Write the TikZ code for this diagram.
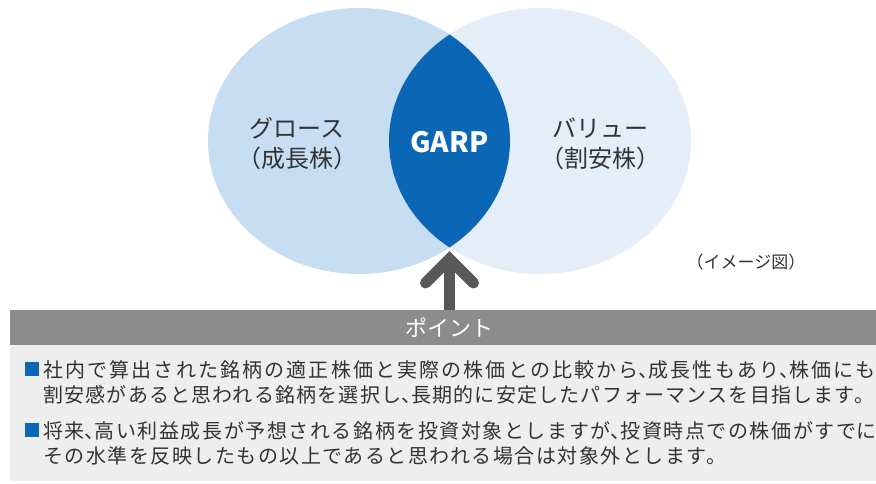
\documentclass[tikz,border=0pt]{standalone}
\usepackage{fontspec}
\setmainfont{Noto Sans CJK JP}
\newfontfamily\bodyfont{Noto Sans CJK JP}
\usetikzlibrary{shapes.geometric}
\definecolor{lblue}{HTML}{C7DDF2}
\definecolor{rblue}{HTML}{E4EEF9}
\definecolor{dblue}{HTML}{0B66B5}
\definecolor{bargray}{HTML}{8C8C8C}
\definecolor{boxgray}{HTML}{EEEEEE}
\definecolor{arrowgray}{HTML}{585858}
\definecolor{txt}{HTML}{333333}
\newcommand\halfcomma{\makebox[0.5em][l]{、}}
\newcommand\lastchar[2][0.4em]{\makebox[#1][l]{#2}}
\tikzset{
  circtext/.style={font=\fontsize{24}{28}\selectfont, text=txt, align=center, inner sep=0pt},
  bodyline/.style={font=\bodyfont\fontsize{20}{24}\selectfont, text=txt, anchor=west, inner sep=0pt},
  bulletsq/.style={fill=dblue, minimum size=14pt, inner sep=0pt},
}
\begin{document}
\begin{tikzpicture}[x=1pt,y=-1pt]
\useasboundingbox (0,0) rectangle (876,483);
\fill[white] (0,0) rectangle (876,483);
% circles
\node[ellipse, fill=lblue, minimum width=302pt, minimum height=266pt, inner sep=0pt] (L) at (359,141) {};
\node[ellipse, fill=rblue, minimum width=302pt, minimum height=266pt, inner sep=0pt] (R) at (540,141) {};
\begin{scope}
  \clip (359,141) ellipse [x radius=151, y radius=133];
  \fill[dblue] (540,141) ellipse [x radius=151, y radius=133];
\end{scope}
\coordinate (lensbot) at (449.5,252);
% texts in circles
\node[circtext] (g1) at (297,128) {グロース};
\node[circtext] (g2) at (297,158) {（成長株）};
\node[font=\fontsize{28}{32}\selectfont\bfseries, text=white, inner sep=0pt] (garp) at (449.5,142) {GARP};
\node[circtext] (v1) at (600,128) {バリュー};
\node[circtext] (v2) at (600,158) {（割安株）};
\node[font=\fontsize{17}{20}\selectfont, text=txt, inner sep=0pt] (img) at (746,262) {（イメージ図）};
% point box
\fill[boxgray] (10,345) rectangle (876,481);
\node[fill=bargray, minimum width=866pt, minimum height=35pt, inner sep=0pt, anchor=north west] (bar) at (10,310) {};
\node[font=\fontsize{22}{26}\selectfont, text=white, inner sep=0pt] (pt) at (449.5,328) {ポイント};
% arrow
\coordinate (stemtop) at (449.5,262);
\draw[arrowgray, line width=11pt] (bar.north -| lensbot) -- (stemtop);
\coordinate (tip) at (449.5,259);
\draw[arrowgray, line width=11pt, line join=miter, line cap=round] ([xshift=-24pt,yshift=-24pt]tip) -- (tip) -- ([xshift=24pt,yshift=-24pt]tip);
% body
\node[bulletsq] (b1) at (32,369) {};
\node[bodyline] (l1) at (43,370) {\addfontfeature{LetterSpace=10.7}社内で算出された銘柄の適正株価と実際の株価との比較から\halfcomma 成長性もあり\halfcomma 株価にも};
\node[bodyline] (l2) at (43,395) {\addfontfeature{LetterSpace=6.0}割安感があると思われる銘柄を選択し\halfcomma 長期的に安定したパフォーマンスを目指します\lastchar[0.6em]{。}};
\node[bulletsq] (b2) at (32,430) {};
\node[bodyline] (l3) at (43,431) {\addfontfeature{LetterSpace=7.8}将来\halfcomma 高い利益成長が予想される銘柄を投資対象としますが\halfcomma 投資時点での株価がすで\lastchar{に}};
\node[bodyline] (l4) at (43,456) {\addfontfeature{LetterSpace=7.5}その水準を反映したもの以上であると思われる場合は対象外とします。};
\end{tikzpicture}
\end{document}
